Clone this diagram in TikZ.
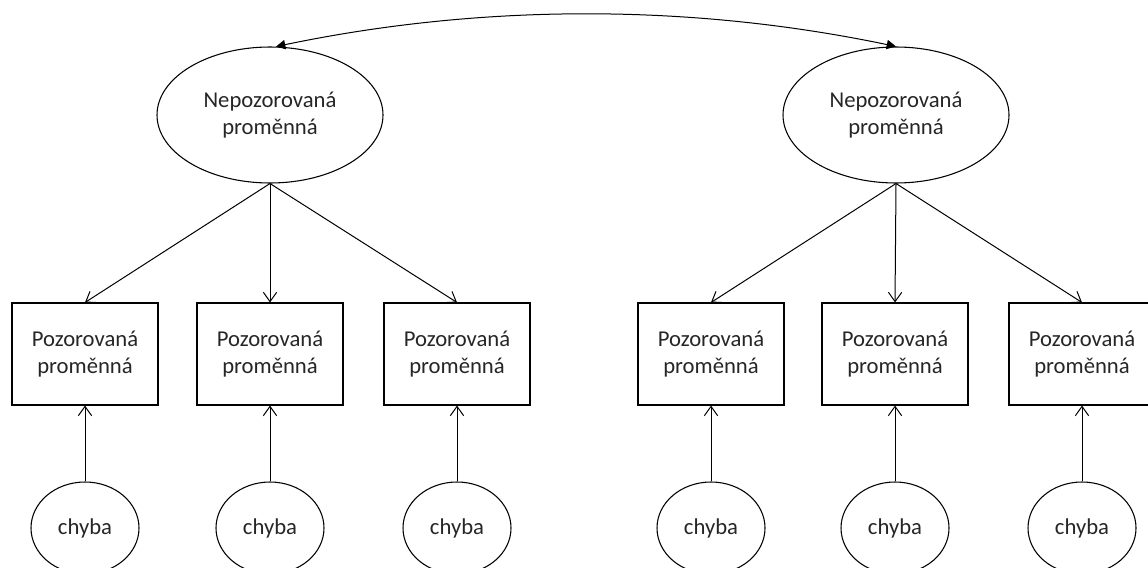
\documentclass[tikz,border=0pt]{standalone}
\usepackage{fontspec}
\setmainfont{Carlito}
\usetikzlibrary{shapes.geometric,arrows.meta}
\definecolor{ink}{HTML}{262626}
\tikzset{
  lat/.style={ellipse,draw=black,line width=0.8pt,minimum width=169.5pt,minimum height=102pt,inner sep=0pt,align=center,text=ink,font=\fontsize{17}{20.25}\selectfont},
  obs/.style={rectangle,draw=black,line width=0.8pt,minimum width=109.5pt,minimum height=76.5pt,inner sep=0pt,align=center,text=ink,font=\fontsize{17}{20.25}\selectfont},
  err/.style={ellipse,draw=black,line width=0.8pt,minimum width=81pt,minimum height=69pt,inner sep=0pt,align=center,text=ink,font=\fontsize{17}{20.25}\selectfont},
  load/.style={draw=black,line width=0.75pt,-{Straight Barb[length=7pt,width=10pt]}},
  cov/.style={draw=black,line width=0.75pt,{Triangle[length=7pt,width=7pt]}-{Triangle[length=7pt,width=7pt]}}
}
\begin{document}
\begin{tikzpicture}[x=0.75pt,y=-0.75pt]
\useasboundingbox (0,0) rectangle (1148,567);
\clip (0,0) rectangle (1148,567);
\node[lat] (l1) at (270,115) {Nepozorovaná\\proměnná};
\node[lat] (l2) at (896,115) {Nepozorovaná\\proměnná};
\node[obs] (o1) at (85,354) {Pozorovaná\\proměnná};
\node[obs] (o2) at (270,354) {Pozorovaná\\proměnná};
\node[obs] (o3) at (457,354) {Pozorovaná\\proměnná};
\node[obs] (o4) at (711,354) {Pozorovaná\\proměnná};
\node[obs] (o5) at (895,354) {Pozorovaná\\proměnná};
\node[obs] (o6) at (1082,354) {Pozorovaná\\proměnná};
\node[err] (e1) at (85,528) {chyba};
\node[err] (e2) at (270,528) {chyba};
\node[err] (e3) at (457,528) {chyba};
\node[err] (e4) at (711,528) {chyba};
\node[err] (e5) at (895,528) {chyba};
\node[err] (e6) at (1082,528) {chyba};
\draw[cov] (l1.85) .. controls +(206,-43) and +(-206,-43) .. (l2.90);
\foreach \o in {o1,o2,o3} \draw[load] (l1.south) -- (\o.north);
\foreach \o in {o4,o5,o6} \draw[load] (l2.south) -- (\o.north);
\foreach \i in {1,...,6} \draw[load] (e\i.north) -- (o\i.south);
\end{tikzpicture}
\end{document}
